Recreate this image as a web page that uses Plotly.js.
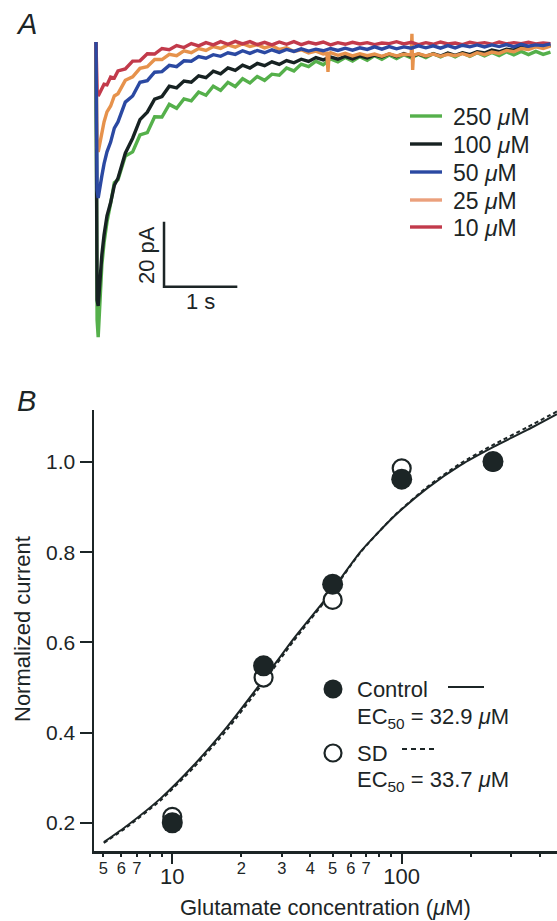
<!DOCTYPE html>
<html>
<head>
<meta charset="utf-8">
<script src="https://cdn.plot.ly/plotly-3.0.1.min.js"></script>
<style>html,body{margin:0;padding:0;background:#fff;}#chart{width:557px;height:921px;}</style>
</head>
<body>
<div id="chart"></div>
<script>
// ---------- Panel A: current traces (time in s, current in pA) ----------
const tGrid = [0, 0.015, 0.03, 0.05, 0.08, 0.11, 0.15, 0.2, 0.25,
  0.3, 0.4, 0.5, 0.6, 0.7, 0.8, 0.9, 1.0, 1.1, 1.2,
  1.3, 1.4, 1.5, 1.6, 1.7, 1.8, 1.9, 2.0, 2.1, 2.2,
  2.3, 2.4, 2.5, 2.6, 2.7, 2.8, 2.9, 3.0, 3.1, 3.2,
  3.3, 3.4, 3.5, 3.6, 3.7, 3.8, 3.9, 4.0, 4.1, 4.2,
  4.3, 4.4, 4.5, 4.6, 4.7, 4.8, 4.9, 5.0, 5.1, 5.2,
  5.3, 5.4, 5.5, 5.6, 5.7, 5.8, 5.9, 6.0, 6.1, 6.2];
const i250 = [0, -85.5, -90.8, -79.4, -68.6, -61.8, -55.4, -49.6, -43.3,
  -42.4, -35.1, -33.8, -28.6, -27.9, -23.0, -23.1, -19.2, -20.4, -17.5,
  -18.1, -15.4, -16.4, -13.6, -14.9, -12.4, -13.7, -11.3, -12.6, -10.6,
  -11.8, -9.9, -10.2, -8.0, -8.9, -6.8, -7.6, -5.9, -7.0, -5.2,
  -6.1, -4.8, -5.9, -4.5, -5.6, -4.2, -5.3, -4.0, -5.1, -3.9,
  -4.9, -3.8, -4.8, -3.6, -4.6, -3.5, -4.6, -3.4, -4.4, -3.3,
  -4.3, -3.2, -4.2, -3.0, -4.0, -2.9, -3.9, -2.9, -3.8, -3.1];
const i100 = [0, -79.4, -81.2, -74.8, -65.5, -59.4, -53.5, -49.4, -44.1,
  -41.9, -34.2, -29.6, -23.9, -21.6, -17.6, -16.8, -13.6, -14.1, -12.0,
  -12.4, -10.4, -11.0, -9.0, -9.8, -8.0, -8.7, -7.1, -8.0, -6.6,
  -7.3, -6.1, -6.9, -5.7, -6.4, -5.3, -6.0, -4.8, -5.5, -4.6,
  -5.3, -4.4, -5.2, -4.3, -4.9, -4.0, -4.6, -3.7, -4.5, -3.6,
  -4.4, -3.7, -4.4, -3.6, -4.3, -3.4, -4.1, -3.3, -3.9, -3.0,
  -3.4, -2.5, -3.0, -2.2, -2.5, -1.5, -1.9, -0.9, -1.5, -1.0];
const i50 = [0, -45.5, -48.0, -44.9, -41.2, -37.5, -33.8, -30.8, -26.5,
  -24.6, -18.5, -16.6, -12.4, -11.9, -9.3, -9.1, -7.2, -7.6, -5.8,
  -5.9, -4.5, -5.0, -3.9, -4.4, -3.3, -3.8, -2.7, -3.5, -2.6,
  -3.3, -2.4, -3.2, -2.3, -2.9, -2.1, -2.8, -2.2, -2.7, -2.0,
  -2.6, -1.9, -2.5, -1.8, -2.3, -1.5, -2.2, -1.4, -2.1, -1.5,
  -1.9, -1.2, -1.8, -1.2, -1.9, -1.1, -1.8, -1.0, -1.5, -0.9,
  -1.5, -0.9, -1.4, -0.8, -1.5, -0.7, -1.3, -0.9, -1.1, -0.6];
const i10 = [0, -14.8, -16.6, -15.7, -14.8, -13.0, -13.2, -10.8, -11.1,
  -8.9, -8.3, -5.9, -5.8, -3.6, -3.7, -2.0, -2.4, -1.1, -1.7,
  -0.5, -1.2, -0.2, -0.9, 0.1, -0.7, 0.2, -0.6, 0.1, -0.8,
  -0.1, -0.9, 0.0, -0.7, 0.1, -0.8, -0.1, -0.6, 0.0, -0.9,
  -0.2, -0.7, -0.1, -0.6, -0.2, -0.8, -0.3, -0.5, 0.1, -0.6,
  -0.1, -0.8, -0.2, -0.7, 0.0, -0.6, -0.3, -0.8, -0.1, -0.5,
  -0.2, -0.7, 0.0, -0.6, -0.2, -0.5, -0.1, -0.6, -0.3, -0.5];
const t25 = [0, 0.015, 0.03, 0.05, 0.08, 0.11, 0.15, 0.2, 0.25,
  0.3, 0.4, 0.5, 0.6, 0.7, 0.8, 0.9, 1.0, 1.1, 1.2,
  1.3, 1.4, 1.5, 1.6, 1.7, 1.8, 1.9, 2.0, 2.1, 2.2,
  2.3, 2.4, 2.5, 2.6, 2.7, 2.8, 2.9, 3.0, 3.1,
  3.15, 3.165, 3.18,
  3.2, 3.3, 3.4, 3.5, 3.6, 3.7, 3.8, 3.9, 4.0, 4.1, 4.2, 4.3,
  4.31, 4.32, 4.33,
  4.4, 4.5, 4.6, 4.7, 4.8, 4.9, 5.0, 5.1, 5.2, 5.3,
  5.4, 5.5, 5.6, 5.7, 5.8, 5.9, 6.0, 6.1, 6.2];
const i25 = [0, -32.6, -33.8, -31.4, -27.7, -24.6, -21.5, -19.7, -16.6,
  -15.9, -11.8, -10.7, -8.1, -7.6, -5.4, -5.4, -3.8, -4.2, -2.7,
  -3.3, -2.0, -2.6, -1.4, -2.0, -0.9, -1.6, -0.5, -1.4, -0.8,
  -1.8, -1.1, -2.3, -1.8, -2.9, -2.4, -3.4, -2.8, -3.7,
  -3.5, -9.2, -3.6,
  -3.3, -4.1, -3.5, -4.3, -3.6, -4.2, -3.7, -4.4, -3.6, -4.3, -3.8, -4.0,
  2.5, -8.6, -4.0,
  -3.6, -4.3, -3.7, -4.4, -3.8, -4.2, -3.6, -4.3, -3.3, -3.9,
  -3.1, -3.5, -2.6, -3.0, -2.0, -2.3, -1.5, -2.0, -1.3];
const traceLabels = ['250 <i>μ</i>M', '100 <i>μ</i>M', '50 <i>μ</i>M', '25 <i>μ</i>M', '10 <i>μ</i>M'];
const traceColors = ['#55b04b', '#172222', '#2b49a2', '#e6924c', '#c23a4b'];
const legendLineColors = ['#55b04b', '#172222', '#2b49a2', '#eba07c', '#c23a4b'];

// scale bar: 1 s and 20 pA
const scaleBarLen = {t: 1, pA: 20};
const scaleBarCorner = {t: 0.928, pA: -75.3};

// ---------- Panel B: dose-response ----------
const conc = [10, 25, 50, 100, 250];
const controlResp = [0.200, 0.548, 0.729, 0.962, 1.001];
const sdResp = [0.213, 0.522, 0.694, 0.986, 1.000];
const fitConc = [5.03, 6.37, 8.9, 12.43, 17.37, 24.27, 33.9, 47.4, 66.2, 92.5, 129.3, 180.6, 252.5, 352.8, 475];
const fitControl = [0.157, 0.194, 0.254, 0.328, 0.413, 0.509, 0.609, 0.701, 0.801, 0.879, 0.942, 0.993, 1.034, 1.071, 1.106];
const fitSD = [0.155, 0.191, 0.250, 0.323, 0.407, 0.503, 0.604, 0.698, 0.800, 0.880, 0.945, 0.997, 1.039, 1.077, 1.112];
const yTicks = [0.2, 0.4, 0.6, 0.8, 1.0];
const xMajorTicks = [10, 100];
const xMinorLabeled = [5, 6, 7, 20, 30, 40, 50, 60, 70];
const xMinorLabelText = ['5', '6', '7', '2', '3', '4', '5', '6', '7'];
const xMinorUnlabeled = [8, 9, 80, 90, 200, 300, 400];

// ---------- helpers ----------
const W = 557, H = 921;
const px = v => v / W;
const py = v => 1 - v / H;
const INK = '#1c2526';
const FONT = 'Liberation Sans, Arial, Helvetica, sans-serif';

const traces = [];
const drawOrder = [0, 1, 3, 4, 2];
const seriesT = [tGrid, tGrid, tGrid, t25, tGrid];
const seriesI = [i250, i100, i50, i25, i10];
drawOrder.forEach(k => {
  traces.push({
    type: 'scatter', mode: 'lines', x: seriesT[k], y: seriesI[k],
    xaxis: 'x2', yaxis: 'y2', name: traceLabels[k], showlegend: false,
    line: {color: traceColors[k], width: 3.4}, hoverinfo: 'skip'
  });
});
traces.push({
  type: 'scatter', mode: 'lines', xaxis: 'x2', yaxis: 'y2', showlegend: false,
  x: [scaleBarCorner.t, scaleBarCorner.t, scaleBarCorner.t + scaleBarLen.t],
  y: [scaleBarCorner.pA + scaleBarLen.pA, scaleBarCorner.pA, scaleBarCorner.pA],
  line: {color: INK, width: 2.5}, hoverinfo: 'skip'
});

// panel B
traces.push({type: 'scatter', mode: 'lines', x: fitConc, y: fitSD, showlegend: false,
  line: {color: INK, width: 2, dash: '4px,3px', shape: 'spline', smoothing: 0.6}, hoverinfo: 'skip'});
traces.push({type: 'scatter', mode: 'lines', x: fitConc, y: fitControl, showlegend: false,
  line: {color: INK, width: 2, shape: 'spline', smoothing: 0.6}, hoverinfo: 'skip'});
traces.push({type: 'scatter', mode: 'markers', x: conc, y: sdResp, showlegend: false,
  marker: {size: 18, color: '#ffffff', line: {color: INK, width: 2.2}}, cliponaxis: false});
traces.push({type: 'scatter', mode: 'markers', x: conc, y: controlResp, showlegend: false,
  marker: {size: 21, color: INK, line: {width: 0}}, cliponaxis: false});
// invisible traces to carry the minor tick axes
traces.push({type: 'scatter', mode: 'markers', x: [10], y: [0.5], xaxis: 'x3', showlegend: false,
  marker: {opacity: 0}, hoverinfo: 'skip'});
traces.push({type: 'scatter', mode: 'markers', x: [10], y: [0.5], xaxis: 'x4', showlegend: false,
  marker: {opacity: 0}, hoverinfo: 'skip'});

// legend of panel A (built from line samples and labels)
const legendRowsY = [116, 144, 172, 200, 227];
const legendShapes = legendRowsY.map((yy, k) => ({
  type: 'line', xref: 'paper', yref: 'paper', x0: px(410), x1: px(442), y0: py(yy), y1: py(yy),
  line: {color: legendLineColors[k], width: 3.4}
}));
const legendTexts = legendRowsY.map((yy, k) => ({
  text: traceLabels[k], x: px(451), y: py(yy + 1), xanchor: 'left', font: {size: 23}
}));

const minorAxisBase = {
  type: 'log', range: [0.6587, 2.677], overlaying: 'x', anchor: 'y', side: 'bottom',
  showgrid: false, zeroline: false, showline: false,
  ticks: 'outside', ticklen: 5, tickwidth: 2, tickcolor: INK, tickmode: 'array'
};

const layout = {
  width: W, height: H,
  margin: {l: 0, r: 0, t: 0, b: 0},
  paper_bgcolor: '#ffffff', plot_bgcolor: 'rgba(0,0,0,0)',
  font: {family: FONT, color: INK, size: 20},
  showlegend: false,
  xaxis: {
    type: 'log', range: [0.6587, 2.677], domain: [px(94), 1], anchor: 'y',
    showgrid: false, zeroline: false, showline: true, linecolor: INK, linewidth: 2.5,
    ticks: 'outside', ticklen: 10, tickwidth: 2, tickcolor: INK,
    tickmode: 'array', tickvals: xMajorTicks, ticktext: xMajorTicks.map(String),
    tickfont: {family: FONT, size: 22, color: INK}, ticklabelstandoff: -6
  },
  xaxis3: Object.assign({}, minorAxisBase, {
    tickvals: xMinorLabeled, ticktext: xMinorLabelText,
    tickfont: {family: FONT, size: 16.5, color: INK}, ticklabelstandoff: -3
  }),
  xaxis4: Object.assign({}, minorAxisBase, {
    tickvals: xMinorUnlabeled, showticklabels: false
  }),
  yaxis: {
    range: [0.1373, 1.1153], domain: [py(851), py(410)], anchor: 'x',
    showgrid: false, zeroline: false, showline: true, linecolor: INK, linewidth: 2.5,
    ticks: 'outside', ticklen: 12, tickwidth: 2, tickcolor: INK,
    tickmode: 'array', tickvals: yTicks, ticktext: yTicks.map(v => v.toFixed(1)),
    tickfont: {family: FONT, size: 21, color: INK}
  },
  xaxis2: {range: [-0.109, 6.289], domain: [px(88), 1], anchor: 'y2', visible: false},
  yaxis2: {range: [-93.23, 3.69], domain: [py(345), py(30)], anchor: 'x2', visible: false},
  shapes: legendShapes.concat([
    {type: 'circle', xref: 'paper', yref: 'paper', xsizemode: 'pixel', ysizemode: 'pixel',
      xanchor: px(333), yanchor: py(689), x0: -9.5, x1: 9.5, y0: -9.5, y1: 9.5,
      fillcolor: INK, line: {width: 0}},
    {type: 'line', xref: 'paper', yref: 'paper', x0: px(448), x1: px(484), y0: py(687), y1: py(687),
      line: {color: INK, width: 2}},
    {type: 'circle', xref: 'paper', yref: 'paper', xsizemode: 'pixel', ysizemode: 'pixel',
      xanchor: px(333), yanchor: py(753), x0: -8.5, x1: 8.5, y0: -8.5, y1: 8.5,
      fillcolor: '#ffffff', line: {color: INK, width: 2.2}},
    {type: 'line', xref: 'paper', yref: 'paper', x0: px(402), x1: px(437), y0: py(749), y1: py(749),
      line: {color: INK, width: 2, dash: '5px,4px'}}
  ]),
  annotations: legendTexts.concat([
    {text: '<i>A</i>', x: px(26), y: py(24), font: {size: 29}},
    {text: '<i>B</i>', x: px(27), y: py(401), font: {size: 29}},
    {text: '20 pA', x: px(146), y: py(255), textangle: -90, font: {size: 22}},
    {text: '1 s', x: px(200), y: py(302), font: {size: 22}},
    {text: 'Normalized current', x: px(22), y: py(629), textangle: -90, font: {size: 22}},
    {text: 'Glutamate concentration (<i>μ</i>M)', x: px(325), y: py(907), font: {size: 22}},
    {text: 'Control', x: px(355), y: py(689), xanchor: 'left', font: {size: 22}},
    {text: 'EC<sub>50</sub> = 32.9 <i>μ</i>M', x: px(355), y: py(718), xanchor: 'left', font: {size: 22}},
    {text: 'SD', x: px(355), y: py(753), xanchor: 'left', font: {size: 22}},
    {text: 'EC<sub>50</sub> = 33.7 <i>μ</i>M', x: px(355), y: py(781), xanchor: 'left', font: {size: 22}}
  ]).map(a => Object.assign({xref: 'paper', yref: 'paper', showarrow: false, xanchor: 'center', yanchor: 'middle'}, a,
    {font: Object.assign({family: FONT, color: INK}, a.font)}))
};

Plotly.newPlot('chart', traces, layout, {staticPlot: true, displayModeBar: false});
</script>
</body>
</html>
